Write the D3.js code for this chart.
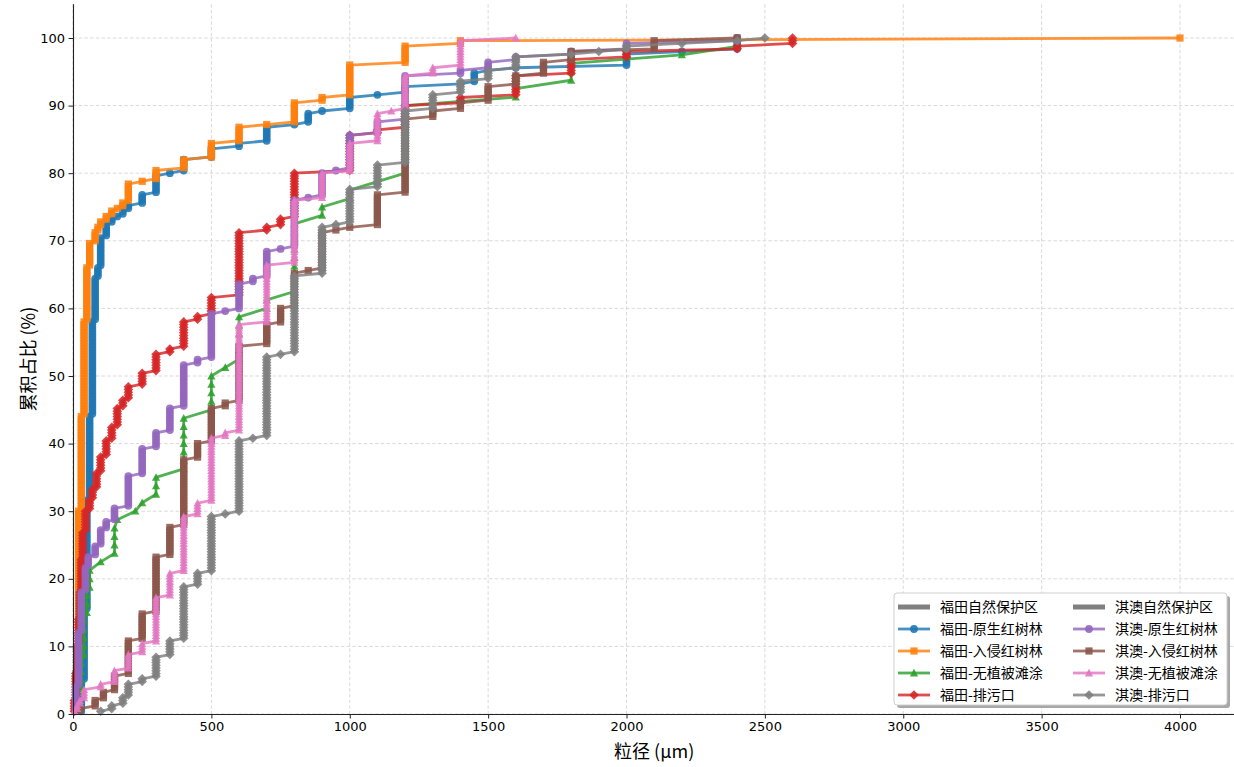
<!DOCTYPE html>
<html><head><meta charset="utf-8">
<script src="https://cdn.jsdelivr.net/npm/d3@7"></script>
<style>body{margin:0;background:#fff;} svg{display:block;}</style>
</head><body>
<svg id="chart" width="1234" height="767"></svg>
<script>
// ---------------- DATA (particle size µm, number of particles at that size) ----------------
const xTicks = [0, 500, 1000, 1500, 2000, 2500, 3000, 3500, 4000];
const yTicks = [0, 10, 20, 30, 40, 50, 60, 70, 80, 90, 100];
const groupLabels = ["福田自然保护区", "淇澳自然保护区"];
const seriesLabels = ["福田-原生红树林", "福田-入侵红树林", "福田-无植被滩涂", "福田-排污口",
                      "淇澳-原生红树林", "淇澳-入侵红树林", "淇澳-无植被滩涂", "淇澳-排污口"];

const fuNativeSize  = [30,40,50,60,70,80,90,100,120,140,160,180,200,250,300,350,400,500,600,700,800,850,900,1000,1100,1200,1400,1450,1500,1600,2000,2200,2400];
const fuNativeCount = [12,26,41,31,35,16,4,11,5,2,1,2,2,4,7,1,5,4,2,6,1,4,1,5,1,3,1,4,1,1,5,1,5];

const fuInvasiveSize  = [10,20,30,40,50,60,80,90,100,120,140,160,180,200,250,300,400,500,600,700,800,900,1000,1200,1400,4000];
const fuInvasiveCount = [15,60,35,35,20,9,4,2,2,2,2,1,2,7,1,4,4,6,6,1,8,2,12,7,2,1];

const fuBareSize  = [20,30,40,50,60,100,150,160,225,250,300,400,500,550,600,700,800,900,1000,1100,1200,1600,1800,2200,2400];
const fuBareCount = [2,4,5,3,3,1,4,1,1,1,3,7,5,1,6,2,9,2,2,1,9,2,3,1,2];

const fuOutfallSize  = [5,10,15,20,25,30,35,45,60,70,85,100,120,140,160,180,200,250,300,350,400,450,500,600,700,750,800,1000,1100,1200,1400,1600,1800,2000,2400,2600];
const fuOutfallCount = [5,10,10,10,10,12,10,8,4,4,6,6,6,5,7,3,5,5,7,2,10,2,7,24,2,3,17,14,2,9,3,8,6,3,2,3];

const qiNativeSize  = [10,20,30,45,55,80,100,120,150,200,250,300,350,400,450,500,550,600,650,700,750,800,850,900,950,1000,1100,1200,1400,1500,1600,1800,2000,2400];
const qiNativeCount = [10,20,15,9,4,4,6,3,5,12,10,6,9,16,2,17,1,10,2,10,1,18,1,9,1,13,5,17,2,3,2,2,3,2];

const qiInvasiveSize  = [25,80,110,150,200,250,300,350,400,450,500,550,600,700,750,800,850,900,950,1000,1100,1200,1300,1400,1500,1600,1700,1800,2100,2400];
const qiInvasiveCount = [2,3,3,6,13,10,21,11,25,6,13,2,21,8,6,13,1,14,1,1,12,28,3,3,6,4,5,4,4,1];

const qiBareSize  = [5,15,25,40,100,150,200,250,300,350,400,450,500,550,600,700,800,900,1000,1100,1150,1200,1300,1400,1600];
const qiBareCount = [1,2,2,4,2,5,6,4,17,9,21,5,24,2,40,22,24,10,11,11,1,13,3,10,1];

const qiOutfallSize  = [100,140,180,200,250,300,350,400,450,500,550,600,650,700,750,800,900,950,1000,1100,1200,1300,1400,1500,1600,1800,1900,2000,2200,2400,2500];
const qiOutfallCount = [1,2,3,5,2,8,6,20,5,21,1,27,1,30,1,29,18,1,13,9,20,6,5,4,5,1,1,2,1,1,1];

// ---------------- STYLE ----------------
const seriesStyle = [
  {color: "#1f77b4", marker: "circle"},
  {color: "#ff7f0e", marker: "square"},
  {color: "#2ca02c", marker: "triangle"},
  {color: "#d62728", marker: "diamond"},
  {color: "#9467bd", marker: "circle"},
  {color: "#8c564b", marker: "square"},
  {color: "#e377c2", marker: "triangle"},
  {color: "#7f7f7f", marker: "diamond"}
];
const seriesData = [
  [fuNativeSize, fuNativeCount], [fuInvasiveSize, fuInvasiveCount],
  [fuBareSize, fuBareCount], [fuOutfallSize, fuOutfallCount],
  [qiNativeSize, qiNativeCount], [qiInvasiveSize, qiInvasiveCount],
  [qiBareSize, qiBareCount], [qiOutfallSize, qiOutfallCount]
];

// cumulative percentage of particles (sorted by size)
function cumulative(sizes, counts) {
  const N = d3.sum(counts);
  const pts = [];
  let c = 0;
  sizes.forEach((s, i) => {
    for (let k = 0; k < counts[i]; k++) { c++; pts.push({x: s, y: c / N * 100}); }
  });
  return pts;
}

const markerPath = {
  circle: "M3.9,0A3.9,3.9,0,1,1,-3.9,0A3.9,3.9,0,1,1,3.9,0Z",
  square: "M-3.6,-3.6H3.6V3.6H-3.6Z",
  triangle: "M0,-4.2L4.1,3.4L-4.1,3.4Z",
  diamond: "M0,-4.8L4.8,0L0,4.8L-4.8,0Z"
};

(function draw() {
  const svg = d3.select("#chart");
  const left = 73, bottom = 714;
  const x = d3.scaleLinear().domain([0, 4200]).range([left, left + 4200 * 0.27675]);
  const y = d3.scaleLinear().domain([0, 105]).range([bottom, bottom - 105 * 6.76]);
  const plotRight = x(4200), plotTop = y(105);

  // grid
  const grid = svg.append("g").attr("stroke", "#d9d9d9").attr("stroke-width", 1).attr("stroke-dasharray", "3.5,2.2");
  grid.selectAll("line.v").data(xTicks).join("line").attr("class", "v")
    .attr("x1", d => x(d)).attr("x2", d => x(d)).attr("y1", plotTop).attr("y2", bottom);
  grid.selectAll("line.h").data(yTicks).join("line").attr("class", "h")
    .attr("y1", d => y(d)).attr("y2", d => y(d)).attr("x1", left).attr("x2", plotRight);

  // series
  const line = d3.line().x(d => x(d.x)).y(d => y(d.y));
  seriesData.forEach(([s, c], i) => {
    const pts = cumulative(s, c);
    const st = seriesStyle[i];
    const g = svg.append("g");
    g.append("path").datum(pts).attr("d", line).attr("fill", "none")
      .attr("stroke", st.color).attr("stroke-width", 2.8).attr("stroke-opacity", 0.82)
      .attr("stroke-linejoin", "round");
    g.selectAll("path.m").data(pts).join("path").attr("class", "m")
      .attr("d", markerPath[st.marker])
      .attr("transform", d => `translate(${x(d.x)},${y(d.y)})`)
      .attr("fill", st.color).attr("fill-opacity", 0.88);
  });

  // axes
  const fontNum = "'DejaVu Sans', 'Noto Sans CJK SC', sans-serif";
  const xAxis = svg.append("g").attr("transform", `translate(0,${bottom})`)
    .call(d3.axisBottom(x).tickValues(xTicks).tickFormat(d3.format("d")).tickSize(4.5).tickPadding(3).tickSizeOuter(0));
  const yAxis = svg.append("g").attr("transform", `translate(${left},0)`)
    .call(d3.axisLeft(y).tickValues(yTicks).tickFormat(d3.format("d")).tickSize(4.5).tickPadding(3.5).tickSizeOuter(0));
  [xAxis, yAxis].forEach(a => {
    a.select(".domain").attr("stroke", "#222").attr("stroke-width", 1.1);
    a.selectAll(".tick line").attr("stroke", "#222").attr("stroke-width", 1);
    a.selectAll(".tick text").attr("font-family", fontNum).attr("font-size", 13).attr("fill", "#000");
  });
  xAxis.select(".domain").attr("d", `M${left},0.5H${plotRight}`);
  yAxis.select(".domain").attr("d", `M0.5,${bottom}V${plotTop}`);

  // axis labels
  const fontCJK = "'Noto Sans CJK SC', 'DejaVu Sans', sans-serif";
  svg.append("text").attr("x", (left + plotRight) / 2).attr("y", 758).attr("text-anchor", "middle")
    .attr("font-family", fontCJK).attr("font-size", 18).text("粒径 (μm)");
  svg.append("text").attr("transform", `translate(35,${(plotTop + bottom) / 2}) rotate(-90)`)
    .attr("text-anchor", "middle").attr("font-family", fontCJK).attr("font-size", 18).text("累积占比 (%)");

  // legend
  const lg = svg.append("g");
  const bx = 894, by = 593, bw = 333, bh = 112;
  lg.append("rect").attr("x", bx + 3).attr("y", by + 3).attr("width", bw).attr("height", bh)
    .attr("rx", 3).attr("fill", "#a8a8a8");
  lg.append("rect").attr("x", bx).attr("y", by).attr("width", bw).attr("height", bh)
    .attr("rx", 3).attr("fill", "#fff").attr("stroke", "#cfcfcf").attr("stroke-width", 1);
  const rowY = [607, 629, 651, 673, 695];
  const colX = [898, 1073];
  const legendItems = [];
  [0, 1].forEach(col => {
    legendItems.push({col, row: 0, label: groupLabels[col], header: true});
    for (let r = 0; r < 4; r++) legendItems.push({col, row: r + 1, label: seriesLabels[col * 4 + r], idx: col * 4 + r});
  });
  legendItems.forEach(it => {
    const x0 = colX[it.col], yy = rowY[it.row];
    if (it.header) {
      lg.append("line").attr("x1", x0).attr("x2", x0 + 32).attr("y1", yy).attr("y2", yy)
        .attr("stroke", "#808080").attr("stroke-width", 5);
    } else {
      const st = seriesStyle[it.idx];
      lg.append("line").attr("x1", x0).attr("x2", x0 + 32).attr("y1", yy).attr("y2", yy)
        .attr("stroke", st.color).attr("stroke-width", 2.8).attr("stroke-opacity", 0.82);
      lg.append("path").attr("d", markerPath[st.marker]).attr("transform", `translate(${x0 + 16},${yy})`)
        .attr("fill", st.color).attr("fill-opacity", 0.9);
    }
    lg.append("text").attr("x", x0 + 42).attr("y", yy + 5).attr("font-family", fontCJK)
      .attr("font-size", 14).attr("fill", "#000").text(it.label);
  });
})();
</script>
</body></html>
